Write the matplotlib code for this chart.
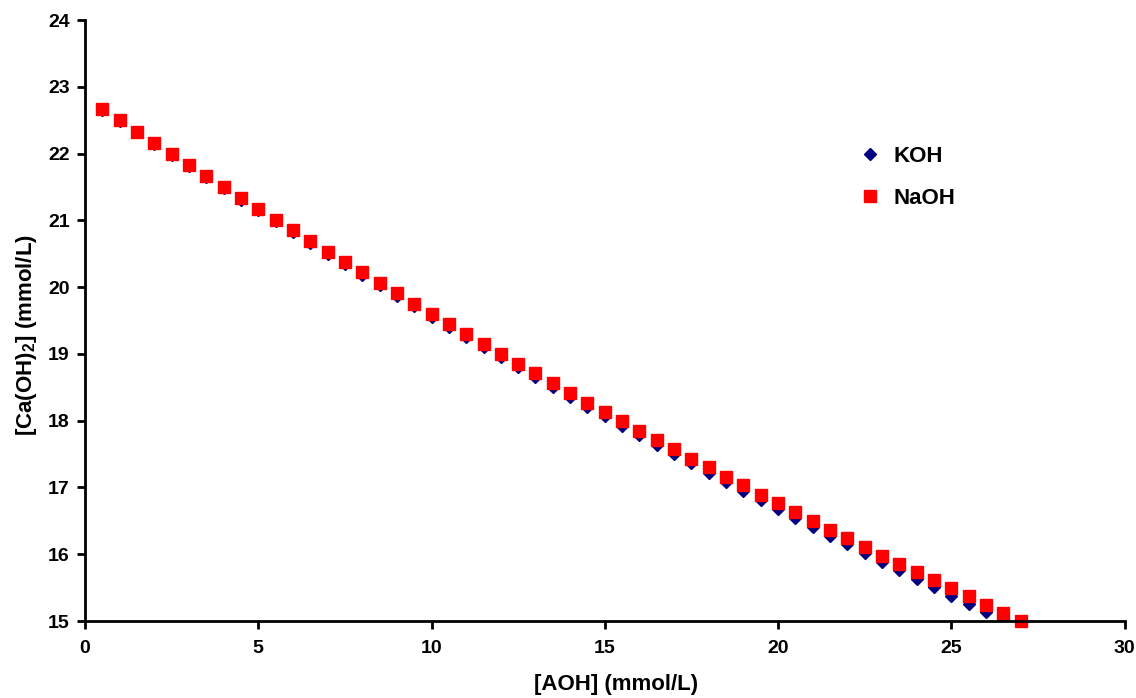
import matplotlib
matplotlib.use('Agg')
import matplotlib.pyplot as plt

# [AOH] concentration (mmol/L)
aoh = [0.5, 1.0, 1.5, 2.0, 2.5, 3.0, 3.5, 4.0, 4.5, 5.0,
       5.5, 6.0, 6.5, 7.0, 7.5, 8.0, 8.5, 9.0, 9.5, 10.0,
       10.5, 11.0, 11.5, 12.0, 12.5, 13.0, 13.5, 14.0, 14.5, 15.0,
       15.5, 16.0, 16.5, 17.0, 17.5, 18.0, 18.5, 19.0, 19.5, 20.0,
       20.5, 21.0, 21.5, 22.0, 22.5, 23.0, 23.5, 24.0, 24.5, 25.0,
       25.5, 26.0, 26.5, 27.0]

koh = [22.66, 22.49, 22.32, 22.15, 21.98, 21.81, 21.65, 21.48, 21.31, 21.15,
       20.99, 20.82, 20.66, 20.50, 20.34, 20.18, 20.03, 19.87, 19.71, 19.56,
       19.40, 19.25, 19.10, 18.95, 18.80, 18.65, 18.50, 18.36, 18.21, 18.07,
       17.92, 17.78, 17.64, 17.50, 17.36, 17.22, 17.08, 16.95, 16.81, 16.68,
       16.54, 16.41, 16.28, 16.15, 16.02, 15.89, 15.76, 15.63, 15.51, 15.38,
       15.26, 15.14, 15.01, 14.89]

naoh = [22.67, 22.50, 22.33, 22.16, 22.00, 21.83, 21.66, 21.50, 21.33, 21.17,
        21.01, 20.85, 20.69, 20.53, 20.37, 20.22, 20.06, 19.91, 19.75, 19.60,
        19.45, 19.30, 19.15, 19.00, 18.85, 18.71, 18.56, 18.42, 18.27, 18.13,
        17.99, 17.85, 17.71, 17.57, 17.43, 17.30, 17.16, 17.03, 16.89, 16.76,
        16.63, 16.50, 16.37, 16.24, 16.11, 15.98, 15.86, 15.73, 15.61, 15.49,
        15.37, 15.24, 15.12, 15.00]

plt.rcParams['font.family'] = ['Liberation Sans', 'DejaVu Sans']
plt.rcParams['font.weight'] = 'bold'
plt.rcParams['mathtext.fontset'] = 'custom'
plt.rcParams['mathtext.bf'] = 'Liberation Sans:bold'
plt.rcParams['mathtext.rm'] = 'Liberation Sans:bold'

fig = plt.figure(figsize=(11.36, 6.98), dpi=100)
ax = fig.add_axes([0.0748, 0.1103, 0.9152, 0.861])

ax.plot(aoh, koh, linestyle='none', marker='D', markersize=6.5,
        color='#000080', label='KOH', clip_on=True)
ax.plot(aoh, naoh, linestyle='none', marker='s', markersize=8,
        color='#ff0000', label='NaOH', clip_on=False)

ax.set_xlim(0, 30)
ax.set_ylim(15, 24)
ax.set_xticks(range(0, 31, 5))
ax.set_yticks(range(15, 25))

for s in ['top', 'right']:
    ax.spines[s].set_visible(False)
for s in ['left', 'bottom']:
    ax.spines[s].set_linewidth(2)

ax.tick_params(direction='out', length=6, width=2)
ax.tick_params(axis='x', pad=8)
ax.tick_params(axis='y', pad=5)
for lab in ax.get_xticklabels() + ax.get_yticklabels():
    lab.set_fontweight('bold')
    lab.set_fontsize(14)

ax.set_xlabel('[AOH] (mmol/L)', fontsize=16, fontweight='bold')
ax.set_ylabel(r'[Ca(OH)$_{\mathbf{2}}$] (mmol/L)', fontsize=16,
              fontweight='bold')
ax.xaxis.set_label_coords(0.511, -0.088)
ax.yaxis.set_label_coords(-0.044, 0.476)

leg = ax.legend(loc='upper left', bbox_to_anchor=(0.756, 0.791),
                bbox_transform=fig.transFigure, frameon=False,
                prop={'size': 16, 'weight': 'bold'}, handletextpad=0.55,
                labelspacing=0.95, handlelength=1.0, borderpad=0,
                borderaxespad=0)

fig.savefig('out.png', dpi=100)
